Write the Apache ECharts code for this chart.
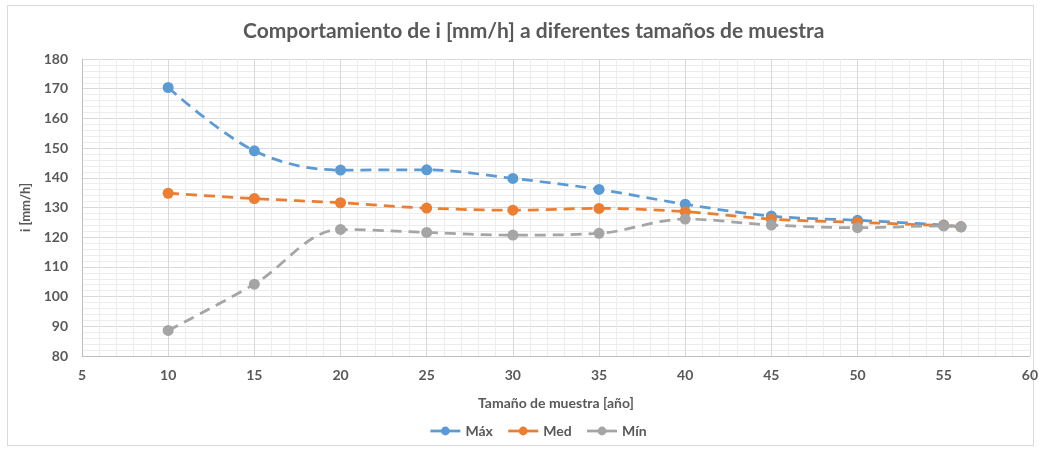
<!DOCTYPE html>
<html>
<head>
<meta charset="utf-8">
<script src="https://cdn.jsdelivr.net/npm/echarts@6/dist/echarts.min.js"></script>
<style>
  html, body { margin: 0; padding: 0; background: #fff; }
  #frame { position: absolute; left: 7px; top: 5px; width: 1027px; height: 441px; border: 1px solid #D9D9D9; box-sizing: border-box; }
  #chart { width: 1041px; height: 451px; }
</style>
</head>
<body>
<div id="frame"></div>
<div id="chart"></div>
<script>
// Sample sizes (years) and the intensity i [mm/h] for each statistic
const sampleSizes = [10, 15, 20, 25, 30, 35, 40, 45, 50, 55, 56];
const maxValues = [170.4, 149.1, 142.6, 142.7, 139.8, 136.1, 131.1, 127.1, 125.7, 124.1, 123.5];
const medValues = [134.8, 133.0, 131.6, 129.8, 129.1, 129.7, 128.6, 126.1, 125.0, 123.9, 123.5];
const minValues = [88.6, 104.2, 122.6, 121.6, 120.7, 121.3, 126.1, 124.1, 123.2, 123.8, 123.5];
const seriesNames = ['Máx', 'Med', 'Mín'];
const seriesColors = ['#5B9BD5', '#ED7D31', '#A5A5A5'];

const pairs = vals => sampleSizes.map((x, i) => [x, vals[i]]);
const font = 'Lato, "Open Sans", sans-serif';
const textColor = '#595959';

const chart = echarts.init(document.getElementById('chart'), null, { renderer: 'canvas' });

const makeSeries = (name, vals, color) => ({
  name: name,
  type: 'line',
  data: pairs(vals),
  smooth: 0.35,
  symbol: 'circle',
  symbolSize: 11,
  itemStyle: { color: color },
  lineStyle: { color: color, width: 2.75, type: [11, 7] },
  emphasis: { disabled: true }
});

chart.setOption({
  animation: false,
  backgroundColor: 'transparent',
  title: {
    text: 'Comportamiento de i [mm/h] a diferentes tamaños de muestra',
    left: 238,
    top: 16,
    textStyle: { fontFamily: font, fontWeight: 'bold', fontSize: 21, color: textColor }
  },
  legend: {
    bottom: 8,
    left: 424,
    itemWidth: 30,
    itemHeight: 11,
    itemGap: 14,
    data: seriesNames,
    lineStyle: { type: 'solid', width: 2.75 },
    textStyle: { fontFamily: font, fontWeight: 'bold', fontSize: 14, color: textColor }
  },
  grid: { left: 82, right: 10, top: 59, bottom: 95, containLabel: false },
  xAxis: {
    type: 'value',
    min: 5, max: 60, interval: 5,
    name: 'Tamaño de muestra [año]',
    nameLocation: 'middle',
    nameGap: 40,
    nameTextStyle: { fontFamily: font, fontWeight: 'bold', fontSize: 14, color: textColor },
    axisLine: { show: true, lineStyle: { color: '#BFBFBF', width: 1 } },
    axisTick: { show: false },
    axisLabel: { fontFamily: font, fontWeight: 'bold', fontSize: 14, color: textColor, margin: 12 },
    splitLine: { show: true, lineStyle: { color: '#D9D9D9', width: 1 } },
    minorTick: { show: false, splitNumber: 5 },
    minorSplitLine: { show: true, lineStyle: { color: '#EDEDED', width: 1 } }
  },
  yAxis: {
    type: 'value',
    min: 80, max: 180, interval: 10,
    name: 'i [mm/h]',
    nameLocation: 'middle',
    nameGap: 41,
    nameRotate: 90,
    nameTextStyle: { fontFamily: font, fontWeight: 'bold', fontSize: 13, color: textColor },
    axisLine: { show: true, lineStyle: { color: '#BFBFBF', width: 1 } },
    axisTick: { show: false },
    axisLabel: { fontFamily: font, fontWeight: 'bold', fontSize: 14, color: textColor, margin: 14 },
    splitLine: { show: true, lineStyle: { color: '#D9D9D9', width: 1 } },
    minorTick: { show: false, splitNumber: 5 },
    minorSplitLine: { show: true, lineStyle: { color: '#EDEDED', width: 1 } }
  },
  series: [
    makeSeries(seriesNames[0], maxValues, seriesColors[0]),
    makeSeries(seriesNames[1], medValues, seriesColors[1]),
    makeSeries(seriesNames[2], minValues, seriesColors[2])
  ]
});
</script>
</body>
</html>
